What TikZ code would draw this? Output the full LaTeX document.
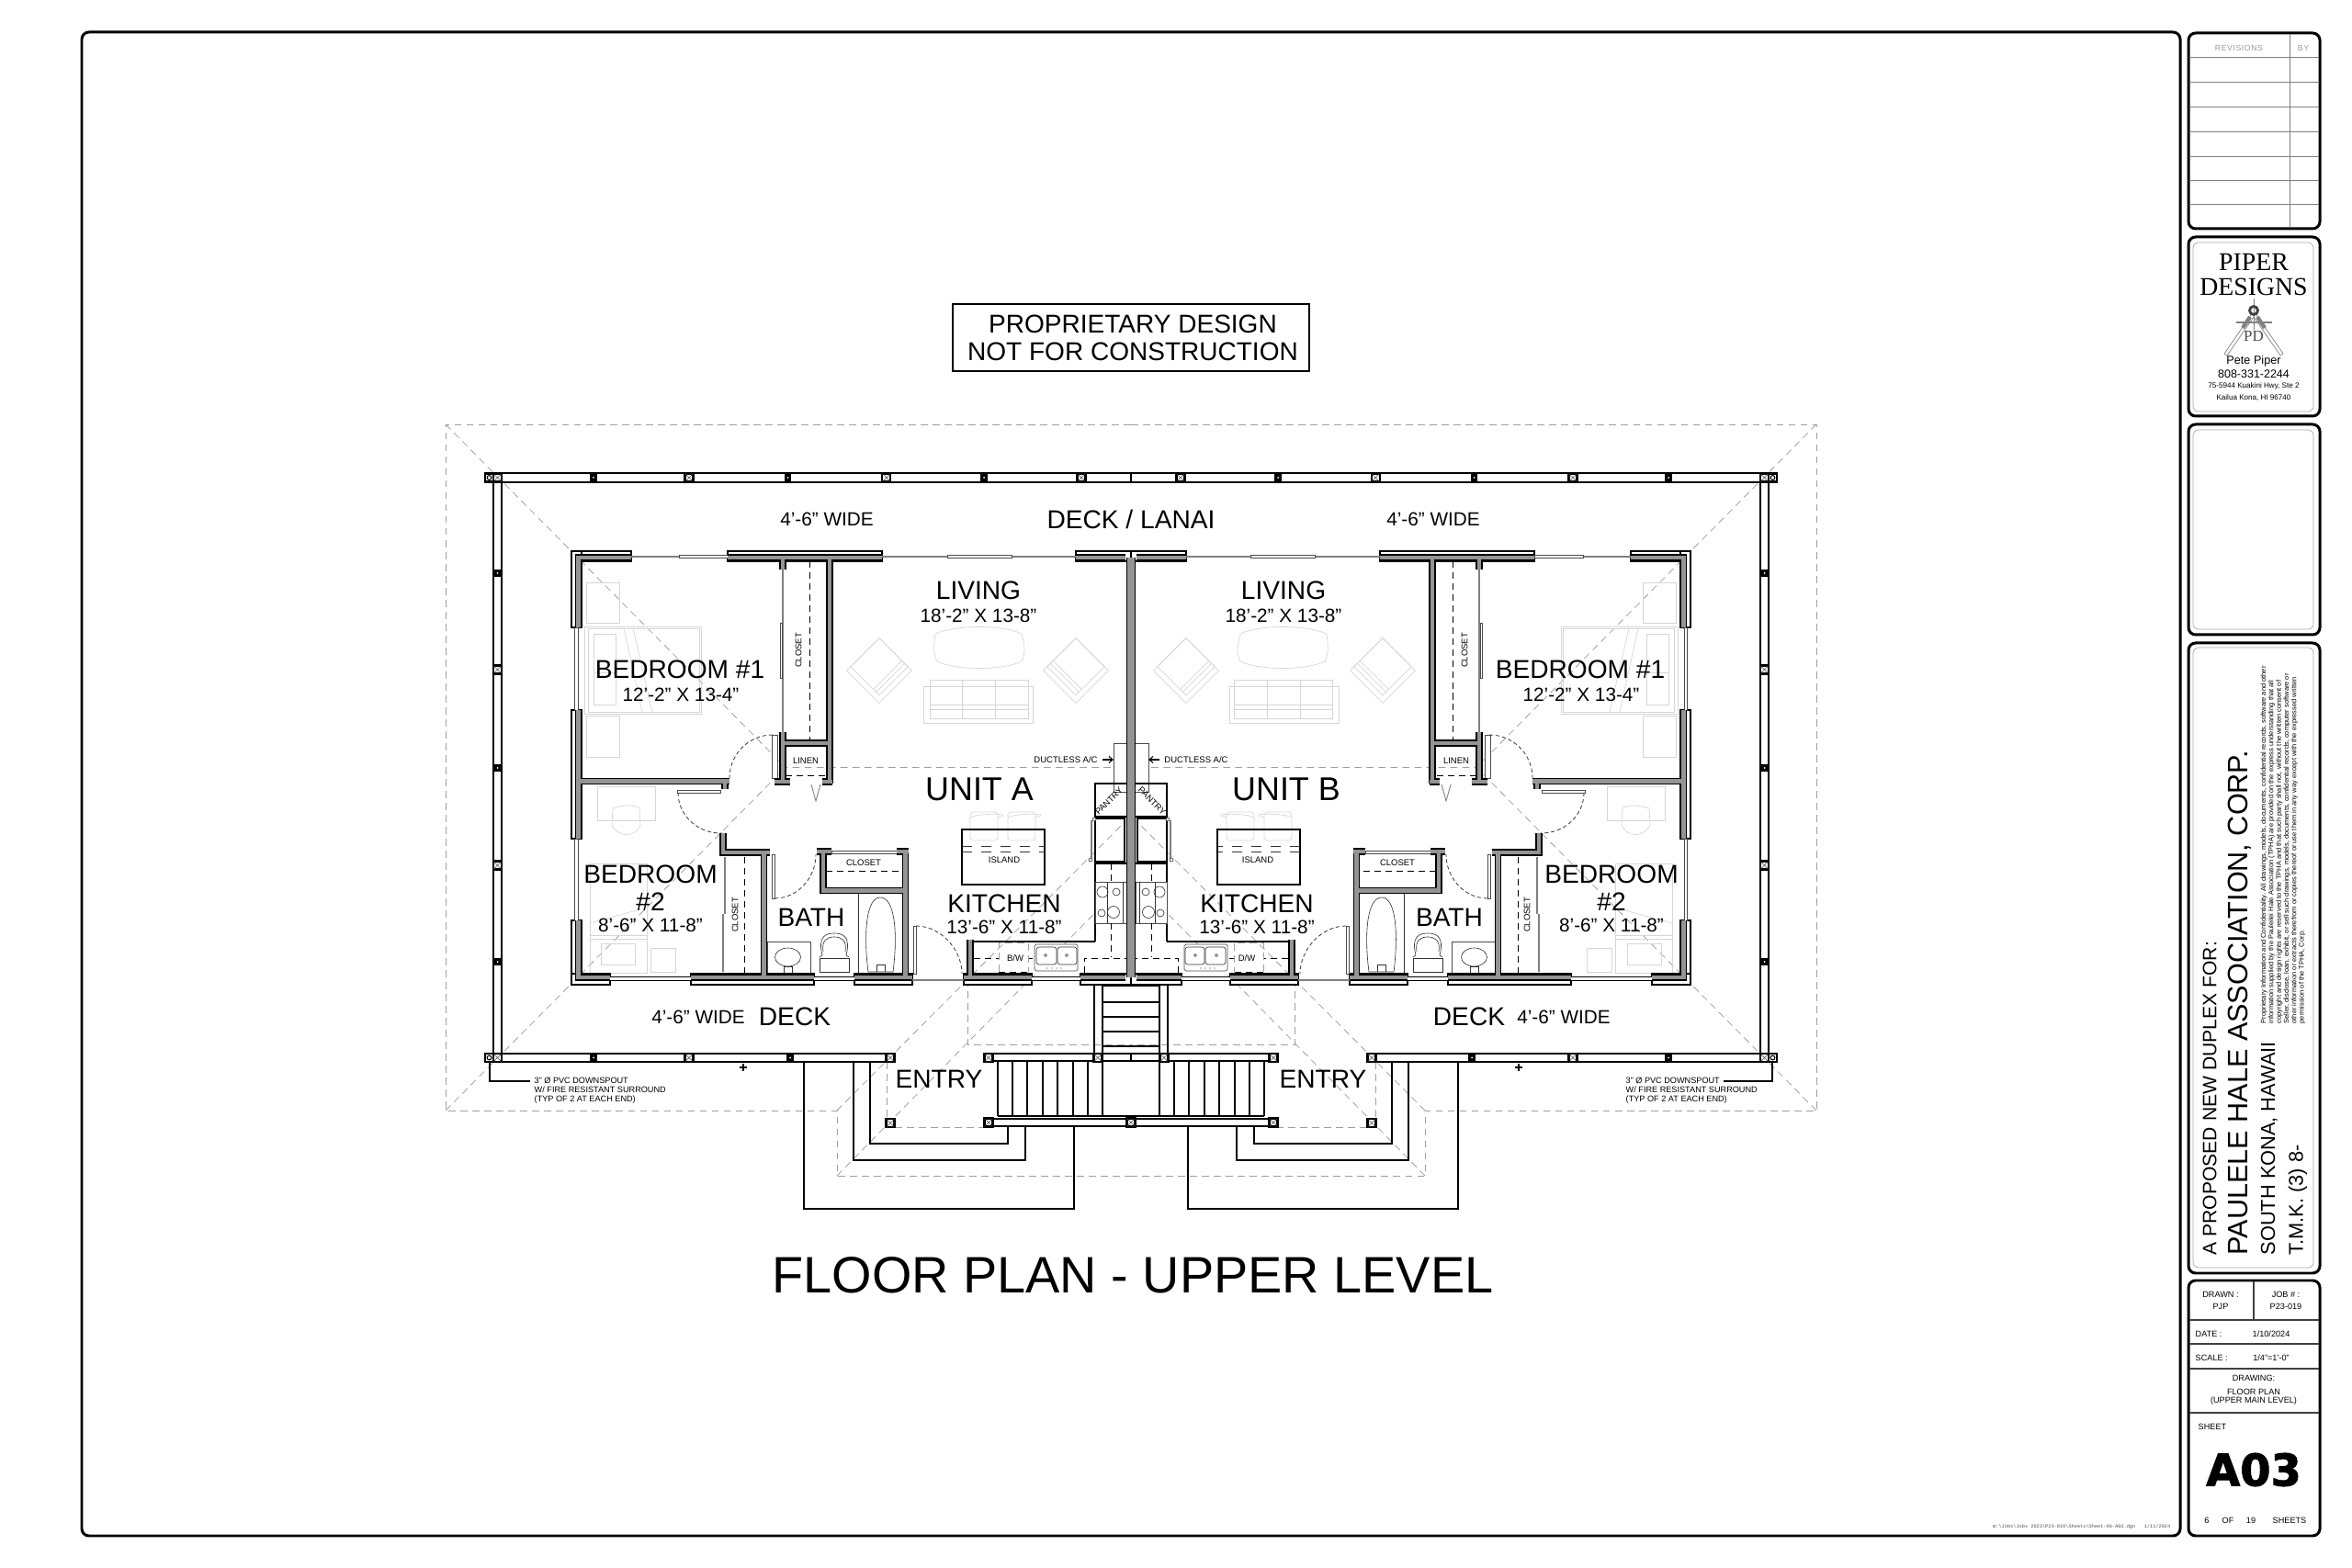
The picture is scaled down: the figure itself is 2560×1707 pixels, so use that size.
\documentclass[tikz,border=0pt]{standalone}
\usepackage{fontspec}
\setmainfont{Liberation Sans}
\newfontfamily\logofont{Liberation Serif}
\newfontfamily\sheetfont[BoldFeatures={FakeBold=2}]{DejaVu Sans}
\newfontfamily\pathfont{Liberation Mono}
\newfontfamily\revfont[LetterSpace=6]{Liberation Sans}
\definecolor{wallgray}{gray}{0.58}
\usetikzlibrary{arrows.meta}

\begin{document}
\begin{tikzpicture}[x=0.01cm, y=-0.01cm,
    panel/.style={draw=black, line width=0.85pt, rounded corners=2.2pt},
    innerpanel/.style={draw=gray!70, line width=0.2pt, rounded corners=1.7pt},
    rule/.style={draw=black!75, line width=0.35pt},
    revrule/.style={draw=gray, line width=0.2pt},
    wall/.style={draw=black, line width=0.35pt, double=wallgray, double distance=1.4pt},
    midwall/.style={draw=black, line width=0.35pt, double=wallgray, double distance=2.2pt},
    siding/.style={draw=black, fill=white, line width=0.5pt},
    glass/.style={draw=black, line width=0.3pt, double=white, double distance=0.9pt},
    slider/.style={draw=gray, line width=0.6pt},
    thinbox/.style={draw=black!70, fill=white, line width=0.2pt},
    fine/.style={draw=black, line width=0.3pt},
    fixture/.style={draw=black!80, line width=0.18pt},
    rail/.style={draw=black, fill=white, line width=0.6pt},
    ledge/.style={draw=black, line width=0.6pt},
    tread/.style={draw=black, line width=0.55pt},
    rod/.style={draw=black, line width=0.28pt, dash pattern=on 2pt off 1.4pt},
    swing/.style={draw=black!80, line width=0.22pt, dash pattern=on 1.2pt off 0.8pt},
    roofline/.style={draw=gray!75, line width=0.22pt, dash pattern=on 2.2pt off 1.5pt},
    furn/.style={draw=gray!32, line width=0.2pt},
    roomlab/.style={inner sep=0pt, font=\fontsize{8}{8}\selectfont},
    sizelab/.style={inner sep=0pt, font=\fontsize{5.9}{5.9}\selectfont},
    unitlab/.style={inner sep=0pt, font=\fontsize{10.2}{10.2}\selectfont},
    tinylab/.style={inner sep=0pt, font=\fontsize{2.7}{2.7}\selectfont},
    blocklab/.style={inner sep=0pt, font=\fontsize{2.6}{2.6}\selectfont},
    revlab/.style={inner sep=0pt, text=gray!80, font=\fontsize{2.5}{2.5}\selectfont\revfont},
    xpost/.pic={
        \draw[draw=black, fill=white, line width=0.65pt] (-4.5,-4.5) rectangle (4.5,4.5);
        \draw[draw=black!70, line width=0.15pt] (-4,-4) -- (4,4) (-4,4) -- (4,-4);
    },
    dotpost/.pic={
        \draw[draw=black, fill=black, line width=0.3pt] (-3,-3.8) rectangle (3,3.8);
        \fill[white] (0,0) circle (1);
    },
    pipepost/.pic={
        \draw[draw=black, fill=white, line width=0.65pt] (-4.5,-4.5) rectangle (4.5,4.5);
        \draw[draw=black, line width=0.3pt] (0,0) circle (2.4);
    }]
    \useasboundingbox (0,0) rectangle (2560,1707);

    \draw[panel] (89,35) rectangle (2373,1672);
    \draw[panel] (2382,36) rectangle (2525,249);
    \draw[panel] (2382,258) rectangle (2525,453);
    \draw[panel] (2382,462) rectangle (2525,691);
    \draw[panel] (2382,700) rectangle (2525,1386);
    \draw[panel] (2382,1394) rectangle (2525,1672);
    \draw[innerpanel] (2387,264) rectangle (2518,448);
    \draw[innerpanel] (2387,468) rectangle (2518,685);
    \draw[innerpanel] (2387,705) rectangle (2518,1380);

    \foreach \rowy in {62,89,116,143,170,196,222}
        \draw[revrule] (2383,\rowy) -- (2524,\rowy);
    \draw[revrule] (2492,37) -- (2492,248);
    \node[revlab] (revisions) at (2437,52) {REVISIONS};
    \node[revlab] (revby) at (2507,52) {BY};

    \node[inner sep=0pt, font=\fontsize{7.9}{7.9}\selectfont\logofont] (piper) at (2453,285) {PIPER};
    \node[inner sep=0pt, font=\fontsize{7.9}{7.9}\selectfont\logofont] (designs) at (2453,312) {DESIGNS};
    \draw[draw=gray, line width=0.3pt] (2434,351) -- (2473,351) (2453,325) -- (2453,359);
    \draw[draw=gray, line width=0.2pt] (2450,343) -- (2421,385) -- (2424,387) -- (2453,345)
        (2456,343) -- (2485,385) -- (2482,387) -- (2453,345);
    \draw[draw=gray, line width=1.2pt] (2449,345) -- (2441,357) (2457,345) -- (2465,357);
    \draw[draw=black!75, line width=0.8pt] (2453,338) circle (4.5);
    \node[inner sep=0pt, text=black!70, font=\fontsize{4.8}{4.8}\selectfont\logofont] (logopd) at (2453,366) {PD};
    \node[inner sep=0pt, font=\fontsize{3.6}{3.6}\selectfont] (pete) at (2453,393) {Pete Piper};
    \node[inner sep=0pt, font=\fontsize{3.55}{3.55}\selectfont] (phone) at (2453,407) {808-331-2244};
    \node[inner sep=0pt, font=\fontsize{2.3}{2.3}\selectfont] (street) at (2453,420) {75-5944 Kuakini Hwy, Ste 2};
    \node[inner sep=0pt, font=\fontsize{2.3}{2.3}\selectfont] (city) at (2453,433) {Kailua Kona, HI 96740};

    \node[inner sep=0pt, anchor=west, rotate=90, font=\fontsize{6}{6}\selectfont] (proposed) at (2405,1367) {A PROPOSED NEW DUPLEX FOR:};
    \node[inner sep=0pt, anchor=west, rotate=90, font=\fontsize{8.7}{8.7}\selectfont] (client) at (2438,1367) {PAULELE HALE ASSOCIATION, CORP.};
    \node[inner sep=0pt, anchor=west, rotate=90, font=\fontsize{6.2}{6.2}\selectfont] (place) at (2470,1367) {SOUTH KONA, HAWAII};
    \node[inner sep=0pt, anchor=west, rotate=90, font=\fontsize{6.2}{6.2}\selectfont] (tmk) at (2501,1367) {T.M.K. (3) 8-};
    \node[inner sep=0pt, anchor=north west, rotate=90, align=left, font=\fontsize{2.13}{2.36}\selectfont] (legal) at (2460,1115) {Proprietary Information and Confidentiality. All drawings, models, documents, confidential records, software and other\\
        information supplied by the Pauleilei Hale Association (TPHA)  are provided on the express understanding that all\\
        copyright and design rights are reserved to the TPHA and that such party shall not, without the written consent of\\
        Seller, disclose, loan, exhibit, or sell such drawings, models, documents, confidential records, computer software or\\
        other information or extracts therefrom or copies thereof or use them in any way except with the expressed written\\
        permission of the TPHA, Corp.};

    \draw[rule] (2453,1395) -- (2453,1437);
    \foreach \rowy in {1437,1463,1490,1538}
        \draw[rule] (2383,\rowy) -- (2524,\rowy);
    \node[blocklab] (drawn) at (2417,1409) {DRAWN :};
    \node[blocklab] (drawnby) at (2417,1422) {PJP};
    \node[blocklab] (job) at (2488,1409) {JOB \# :};
    \node[blocklab] (jobno) at (2488,1422) {P23-019};
    \node[blocklab, anchor=west] (date) at (2389,1452) {DATE :};
    \node[blocklab] (dateval) at (2472,1452) {1/10/2024};
    \node[blocklab, anchor=west] (scale) at (2389,1478) {SCALE :};
    \node[blocklab] (scaleval) at (2472,1478) {1/4"=1'-0"};
    \node[blocklab] (drawing) at (2453,1500) {DRAWING:};
    \node[blocklab] (drawinga) at (2453,1515) {FLOOR PLAN};
    \node[blocklab] (drawingb) at (2453,1525) {(UPPER MAIN LEVEL)};
    \node[blocklab, anchor=west] (sheet) at (2392,1553) {SHEET};
    \node[inner sep=0pt, font=\fontsize{13.6}{13.6}\selectfont\sheetfont\bfseries] (sheetno) at (2453,1600) {A03};
    \node[blocklab] (sheetof) at (2402,1655) {6};
    \node[blocklab] (sheetofa) at (2425,1655) {OF};
    \node[blocklab] (sheetofb) at (2450,1655) {19};
    \node[blocklab] (sheetofc) at (2492,1655) {SHEETS};

    \node[inner sep=0pt, anchor=east, text=black!70, font=\fontsize{1.5}{1.5}\selectfont\pathfont] (jobpath) at (2363,1662) {m:\textbackslash Jobs\textbackslash Jobs 2023\textbackslash P23-019\textbackslash Sheets\textbackslash Sheet-06-A03.dgn\ \ \ 1/11/2024};

    \draw[draw=black, line width=0.5pt] (1037,331) rectangle (1425,404);
    \node[inner sep=0pt, font=\fontsize{7.97}{7.97}\selectfont] (propa) at (1233,353) {PROPRIETARY DESIGN};
    \node[inner sep=0pt, font=\fontsize{7.97}{7.97}\selectfont] (propb) at (1233,383) {NOT FOR CONSTRUCTION};
    \node[inner sep=0pt, font=\fontsize{15.87}{15.87}\selectfont] (plantitle) at (1233,1388) {FLOOR PLAN - UPPER LEVEL};

    \foreach \flip/\off in {1/0,-1/2462}{
    \begin{scope}[shift={(\off,0)}, xscale=\flip]
        \draw[roofline] (1231,462) -- (485,462) -- (485,1209) -- (911,1209) -- (911,1280) -- (1231,1280);
        \draw[roofline] (485,462) -- (855,835.5) -- (1231,835.5);
        \draw[roofline] (485,1209) -- (855,835.5);
        \draw[roofline] (911,1209) -- (1225,894);
        \draw[roofline] (911,1280) -- (1225,960);
        \draw[roofline] (1053,1066) -- (1053,1137) -- (1231,1137);
        \draw[roofline] (965,1156) -- (965,1218);
        \draw[roofline] (974,1227) -- (1072,1227);

        \draw[furn] (638,634) rectangle (674,678);
        \draw[furn] (638,779) rectangle (674,824);
        \draw[furn] (636,682) rectangle (763,777);
        \draw[furn] (640,684) rectangle (761,775);
        \draw[furn] (646,690) rectangle (670,732);
        \draw[furn] (646,732) rectangle (670,767);
        \draw[furn] (679,684) -- (699,775) (689,684) -- (710,775);
        \draw[furn] (650,856) rectangle (713,893);
        \draw[furn] (667,880) .. controls (680,876) and (690,876) .. (696,880) -- (697,898) .. controls (692,912) and (672,912) .. (666,898) -- cycle;
        \draw[furn] (642,940) rectangle (704,1059);
        \draw[furn] (642,1018) -- (704,1018) (642,1022) -- (704,1022);
        \draw[furn] (654,1027) rectangle (691,1050);
        \draw[furn] (708,1032) rectangle (735,1058);
        \draw[furn] (642,1005) -- (697,990);
        \draw[furn] (1018,690) .. controls (1040,680) and (1092,680) .. (1112,690) .. controls (1116,705) and (1116,712) .. (1112,720) .. controls (1092,730) and (1040,730) .. (1020,720) .. controls (1016,712) and (1016,705) .. (1018,690);
        \draw[furn] (1005,747) rectangle (1124,787);
        \draw[furn] (1012,740) rectangle (1119,782);
        \draw[furn] (1047,740) -- (1047,782) (1083,740) -- (1083,782);
        \draw[furn] (1012,767) -- (1119,767) (1012,772) -- (1119,772);
        \foreach \chairx/\chairdir in {957/1,1171/-1}{
            \draw[furn, shift={(\chairx,730)}, xscale=\chairdir, rotate=45] (-25,-25) rectangle (25,25);
            \draw[furn, shift={(\chairx,730)}, xscale=\chairdir, rotate=45] (-19,-25) rectangle (25,19);
            \draw[furn, shift={(\chairx,730)}, xscale=\chairdir, rotate=45] (-19,10) -- (25,10) (-19,14) -- (25,14);
        }
        \foreach \stoolx in {1056,1097}{
            \draw[furn, rounded corners=1pt] (\stoolx,884) rectangle ++(30,31);
            \draw[furn] (\stoolx,890) .. controls ++(8,-5) and ++(22,-5) .. ++(30,0);
        }

        \draw[rail] (528,515) rectangle (1231,525);
        \draw[rail] (537,525) rectangle (546,1147);
        \draw[rail] (528,1147) rectangle (973,1156);
        \draw[rail] (1071,1147) rectangle (1231,1155);
        \draw[rail] (1071,1218) rectangle (1231,1226);
        \draw[ledge] (947,1156) -- (947,1245) -- (1097,1245) -- (1097,1226);
        \draw[ledge] (929,1156) -- (929,1263) -- (1116,1263) -- (1116,1226);
        \draw[ledge] (875,1156) -- (875,1316) -- (1169,1316) -- (1169,1226);
        \draw[fine] (1191,1072) -- (1191,1147);
        \draw[tread] (1200,1072) -- (1200,1215);
        \foreach \treadx in {1086,1102,1118,1135,1151,1168,1184}
            \draw[tread] (\treadx,1155) -- (\treadx,1215);
        \draw[ledge] (1086,1215) -- (1231,1215);
        \foreach \tready in {1073,1091,1107,1123,1139,1155}
            \draw[tread] (1200,\tready) -- (1231,\tready);
        \draw[fine] (805,1162) -- (813,1162) (809,1158) -- (809,1166);

        \draw[thinbox] (1212,809) rectangle (1231,862);
        \draw[fine] (1192,1025) -- (1059,1025);
        \draw[fine] (1192,1025) -- (1192,940) -- (1231,940);
        \draw[fine] (1192,891) -- (1192,853) -- (1231,853);
        \draw[fine] (1192,889) -- (1231,889);
        \draw[fine] (1192,891) rectangle (1224,938);
        \draw[slider] (1188,893) -- (1188,935);
        \draw[fixture, fill=white] (1191,892) circle (2);
        \draw[fixture, fill=white] (1187,936) circle (2);
        \draw[thinbox] (1192,960) rectangle (1226,1005);
        \draw[fixture] (1205,960) -- (1205,1005) (1222,960) -- (1222,1005);
        \draw[fixture] (1200,971) circle (6);
        \draw[fixture] (1215,971) circle (4);
        \draw[fixture] (1199,994) circle (4);
        \draw[fixture] (1212,993) circle (6.5);
        \draw[rod] (1209,940) -- (1209,960);
        \draw[rod] (1209,1005) -- (1209,1042);
        \draw[rod] (1231,1043) -- (1180,1043) -- (1180,1060);
        \draw[rod] (1060,1043) -- (1087,1043);
        \draw[rod] (1119,1043) -- (1124,1043);
        \draw[roofline] (1087,1058) -- (1087,1026) -- (1119,1026) -- (1119,1058);
        \draw[rod] (1087,1058) -- (1119,1058);
        \draw[thinbox, rounded corners=0.5pt] (1126,1028) rectangle (1173,1057);
        \draw[fixture, rounded corners=0.8pt] (1128,1031) rectangle (1150,1050);
        \draw[fixture, rounded corners=0.8pt] (1151,1031) rectangle (1172,1050);
        \draw[fixture] (1138,1040) circle (1.5) (1161,1040) circle (1.5);
        \foreach \dotx in {1140,1145,1150,1155}
            \fill[black!80] (\dotx,1054) circle (0.7);
        \draw[fine] (1047,903) rectangle (1137,963);
        \draw[fixture, dashed] (1047,921) -- (1137,921) (1047,927) -- (1137,927);

        \draw[thinbox] (835,1025) rectangle (882,1060);
        \draw[fixture] (857.5,1042) ellipse (14 and 10);
        \draw[fixture] (853,1060) -- (853,1052) -- (862,1052) -- (862,1060);
        \draw[fixture] (892,1043) rectangle (924,1058);
        \draw[fixture] (892,1042) -- (895,1040) .. controls (890,1020) and (898,1016) .. (908,1016) .. controls (918,1016) and (926,1020) .. (921,1040) -- (924,1042);
        \draw[fixture] (896,1036) .. controls (894,1024) and (900,1020) .. (908,1020) .. controls (916,1020) and (922,1024) .. (920,1036);
        \draw[fixture] (934,972) -- (934,1060);
        \draw[fixture] (945,1058) .. controls (940,1020) and (942,977) .. (958,977) .. controls (975,977) and (977,1020) .. (972,1058) -- cycle;
        \draw[fixture] (954,1058) -- (954,1050) -- (963,1050) -- (963,1058);

        \draw[siding] (622,600) rectangle (687,611);
        \draw[siding] (792,600) rectangle (960,611);
        \draw[siding] (1171,600) rectangle (1231,611);
        \draw[siding] (622,600) rectangle (633,683);
        \draw[siding] (622,773) rectangle (633,913);
        \draw[siding] (622,1002) rectangle (633,1072);
        \draw[siding] (622,1060) rectangle (664,1072);
        \draw[siding] (752,1060) rectangle (886,1072);
        \draw[siding] (930,1060) rectangle (993,1072);
        \draw[siding] (1049,1060) rectangle (1123,1072);
        \draw[siding] (1176,1060) rectangle (1231,1072);

        \draw[slider] (687,606) -- (792,606);
        \draw[thinbox] (739,604.5) rectangle (792,607.5);
        \draw[slider] (960,606) -- (1171,606);
        \draw[thinbox] (1031,604.5) rectangle (1101,607.5);
        \draw[thinbox] (625.5,683) rectangle (629,773);
        \draw[thinbox] (625.5,913) rectangle (629,1002);
        \draw[glass] (664,1065.5) -- (752,1065.5);
        \draw[glass] (886,1065.5) -- (930,1065.5);
        \draw[glass] (1123,1065.5) -- (1176,1065.5);
        \draw[draw=gray, line width=0.3pt] (993,1067) -- (1049,1067);

        \draw[slider, line width=0.35pt] (852,620) -- (852,797);
        \draw[thinbox] (849,678) rectangle (851,738);
        \draw[slider, line width=0.35pt] (789,933) -- (789,995);
        \draw[slider, line width=0.35pt] (787,995) -- (787,1058);
        \draw[thinbox] (905,926) rectangle (976,929);
        \draw[rod] (881,611) -- (881,806);
        \draw[rod] (855,844) -- (900,844);
        \draw[rod] (810,933) -- (810,1060);
        \draw[rod] (899,948) -- (982,948);
        \draw[draw=gray, line width=0.25pt] (883,854) -- (888,872) -- (893,854);

        \draw[thinbox] (840,800) rectangle (846,847);
        \draw[swing] (841,800) .. controls (815,800) and (794,821) .. (794,847);
        \draw[thinbox] (737,860) rectangle (784,863);
        \draw[swing] (738,863) .. controls (738,888) and (760,908) .. (786,907);
        \draw[thinbox] (840,930) rectangle (843,978);
        \draw[swing] (843,978) .. controls (868,978) and (888,956) .. (888,930);
        \draw[thinbox] (994,1008) rectangle (997,1060);
        \draw[swing] (997,1008) .. controls (1024,1008) and (1047,1034) .. (1047,1060);

        \draw[midwall] (1231,607) -- (1231,1064);
        \draw[wall] (687,607) -- (629.5,607) -- (629.5,683)
            (629.5,773) -- (629.5,913)
            (629.5,1002) -- (629.5,1064) -- (664,1064)
            (752,1064) -- (886,1064)
            (930,1064) -- (993,1064)
            (1049,1064) -- (1123,1064)
            (1176,1064) -- (1225,1064)
            (792,607) -- (960,607)
            (1171,607) -- (1225,607)
            (903,607) -- (903,853)
            (852,809) -- (903,809)
            (852,607) -- (852,620)
            (852,797) -- (852,851)
            (843,851) -- (860,851)
            (895,851) -- (906,851)
            (629.5,850.5) -- (794,850.5)
            (789,850.5) -- (789,859)
            (787,907) -- (787,928) -- (838,928)
            (831.5,928) -- (831.5,1064)
            (896,927) -- (896,969.5) -- (985.5,969.5)
            (985.5,927) -- (985.5,1064)
            (889,927) -- (905,927)
            (976,927) -- (989,927)
            (1056,1023) -- (1056,1064);

        \foreach \postx in {750,964.7}
            \pic at (\postx,520) {xpost};
        \foreach \postx in {646,857.5,1071}
            \pic at (\postx,520) {dotpost};
        \pic at (1177,520) {xpost};
        \pic at (532.5,520) {pipepost};
        \pic at (541.5,520) {xpost};
        \foreach \posty in {624,836,1047}
            \pic at (541.5,\posty) {dotpost};
        \foreach \posty in {729,942}
            \pic at (541.5,\posty) {xpost};
        \pic at (532.5,1151.5) {pipepost};
        \pic at (541.5,1151.5) {xpost};
        \pic at (646,1151.5) {dotpost};
        \pic at (750,1151.5) {xpost};
        \pic at (860,1151.5) {dotpost};
        \pic at (969,1151.5) {xpost};
        \pic at (969,1222.5) {xpost};
        \pic at (1076,1151.5) {xpost};
        \pic at (1195,1151.5) {xpost};
        \pic at (1076,1222) {xpost};
    \end{scope}
    }
    \pic at (1231,1222) {xpost};

    \node[roomlab] (decklanai) at (1231,565) {DECK / LANAI};
    \node[sizelab] (widenw) at (900,565) {4'-6" WIDE};
    \node[sizelab] (widene) at (1560,565) {4'-6" WIDE};
    \node[sizelab] (widesw) at (760,1107) {4'-6" WIDE};
    \node[sizelab] (widese) at (1702,1107) {4'-6" WIDE};
    \node[roomlab] (decksw) at (865,1107) {DECK};
    \node[roomlab] (deckse) at (1599,1107) {DECK};
    \node[roomlab] (entrya) at (1022,1175) {ENTRY};
    \node[roomlab] (entryb) at (1440,1175) {ENTRY};
    \node[unitlab] (unita) at (1066,859) {UNIT A};
    \node[unitlab] (unitb) at (1400,859) {UNIT B};

    \node[roomlab] (livinga) at (1065,643) {LIVING};
    \node[sizelab] (livingasize) at (1065,670) {18'-2" X 13-8"};
    \node[roomlab] (livingb) at (1397,643) {LIVING};
    \node[sizelab] (livingbsize) at (1397,670) {18'-2" X 13-8"};
    \node[roomlab] (beda) at (740,729) {BEDROOM \#1};
    \node[sizelab] (bedasize) at (741,756) {12'-2" X 13-4"};
    \node[roomlab] (bedb) at (1720,729) {BEDROOM \#1};
    \node[sizelab] (bedbsize) at (1721,756) {12'-2" X 13-4"};
    \node[roomlab] (bedc) at (708,952) {BEDROOM};
    \node[roomlab] (bedcnum) at (708,982) {\#2};
    \node[sizelab] (bedcsize) at (708,1007) {8'-6" X 11-8"};
    \node[roomlab] (bedd) at (1754,952) {BEDROOM};
    \node[roomlab] (beddnum) at (1754,982) {\#2};
    \node[sizelab] (beddsize) at (1754,1007) {8'-6" X 11-8"};
    \node[roomlab] (batha) at (883,999) {BATH};
    \node[roomlab] (bathb) at (1577.5,999) {BATH};
    \node[roomlab] (kitchena) at (1093,984) {KITCHEN};
    \node[sizelab] (kitchenasize) at (1093,1009) {13'-6" X 11-8"};
    \node[roomlab] (kitchenb) at (1368,984) {KITCHEN};
    \node[sizelab] (kitchenbsize) at (1368,1009) {13'-6" X 11-8"};

    \node[tinylab, rotate=90] (closeta) at (869,708) {CLOSET};
    \node[tinylab, rotate=90] (closetb) at (1594,708) {CLOSET};
    \node[tinylab, rotate=90] (closetc) at (800,996) {CLOSET};
    \node[tinylab, rotate=90] (closetd) at (1662,996) {CLOSET};
    \node[tinylab] (closete) at (940,939) {CLOSET};
    \node[tinylab] (closetf) at (1521,939) {CLOSET};
    \node[tinylab] (linena) at (877,828) {LINEN};
    \node[tinylab] (linenb) at (1585,828) {LINEN};
    \node[tinylab] (islanda) at (1093,936) {ISLAND};
    \node[tinylab] (islandb) at (1369,936) {ISLAND};
    \node[tinylab] (dwa) at (1105,1043) {B/W};
    \node[tinylab] (dwb) at (1357,1043) {D/W};
    \node[tinylab, rotate=45] (pantrya) at (1207,872) {PANTRY};
    \node[tinylab, rotate=-45] (pantryb) at (1254,872) {PANTRY};

    \node[tinylab] (ductlessa) at (1160,827) {DUCTLESS A/C};
    \node[tinylab] (ductlessb) at (1302,827) {DUCTLESS A/C};
    \coordinate (acboxa) at (1212,827);
    \coordinate (acboxb) at (1250,827);
    \draw[-{Straight Barb[length=1.2pt,width=2pt]}, fine] (ductlessa.east) ++(5,0) -- (acboxa);
    \draw[-{Straight Barb[length=1.2pt,width=2pt]}, fine] (ductlessb.west) ++(-5,0) -- (acboxb);

    \node[tinylab, anchor=west, align=left, font=\fontsize{2.6}{2.85}\selectfont] (pvca) at (581,1187) {3" \O\ PVC DOWNSPOUT\\ W/ FIRE RESISTANT SURROUND\\ (TYP OF 2 AT EACH END)};
    \node[tinylab, anchor=west, align=left, font=\fontsize{2.6}{2.85}\selectfont] (pvcb) at (1769,1187) {3" \O\ PVC DOWNSPOUT\\ W/ FIRE RESISTANT SURROUND\\ (TYP OF 2 AT EACH END)};
    \coordinate (pipea) at (533,1156);
    \coordinate (pipeb) at (1929,1156);
    \coordinate (pvcaend) at (577,1177);
    \coordinate (pvcbend) at (1876,1177);
    \draw[fine] (pipea) |- (pvcaend);
    \draw[fine] (pipeb) |- (pvcbend);
\end{tikzpicture}
\end{document}
